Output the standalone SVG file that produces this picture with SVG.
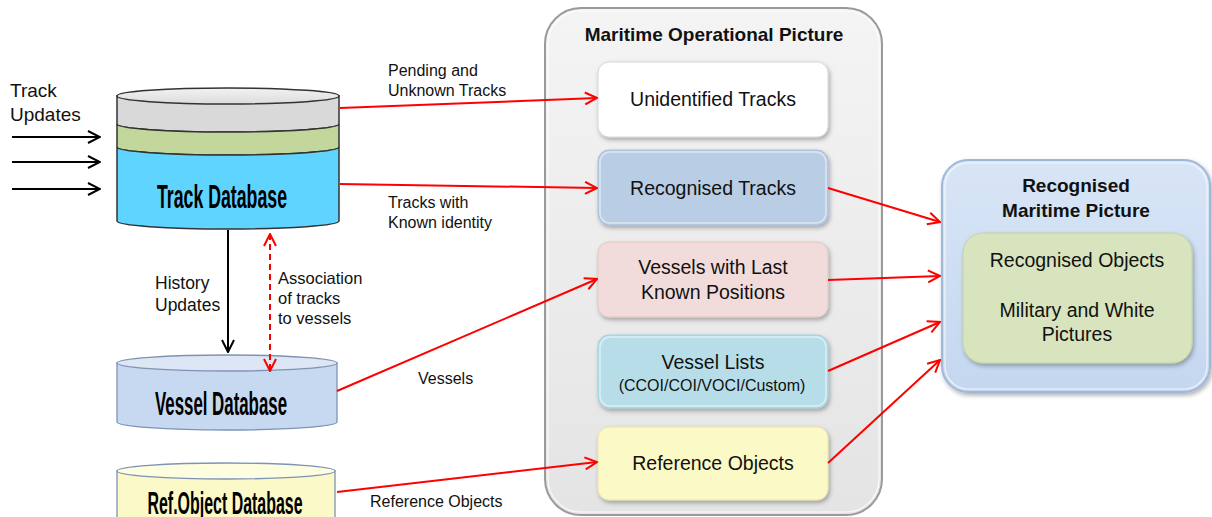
<svg xmlns="http://www.w3.org/2000/svg" width="1212" height="517" viewBox="0 0 1212 517">
<style>
text{font-family:"Liberation Sans",Arial,sans-serif;fill:#111}
.lbl{font-size:16px}
.box{font-size:19.5px;text-anchor:middle}
.ttl{font-size:19px;font-weight:bold;text-anchor:middle}
.db{font-size:33px;font-weight:bold;text-anchor:middle;fill:#000}
.red{stroke:#ff0000;stroke-width:2;fill:none}
.blk{stroke:#000;stroke-width:2;fill:none}
.inner{stroke:#ffffff;stroke-width:1.5}
</style>
<defs>
<marker id="ra" viewBox="0 0 14 14" refX="13" refY="7" markerWidth="14" markerHeight="14" markerUnits="userSpaceOnUse" orient="auto-start-reverse">
<polyline points="1,1 13,7 1,13" fill="none" stroke="#ff0000" stroke-width="2"/>
</marker>
<marker id="ba" viewBox="0 0 14 14" refX="13" refY="7" markerWidth="14" markerHeight="14" markerUnits="userSpaceOnUse" orient="auto">
<polyline points="1,1 13,7 1,13" fill="none" stroke="#000" stroke-width="2"/>
</marker>
<filter id="sh" x="-10%" y="-10%" width="125%" height="130%">
<feDropShadow dx="1.5" dy="2.5" stdDeviation="2" flood-color="#000" flood-opacity="0.3"/>
</filter>
<linearGradient id="gMop" x1="0" y1="0" x2="0" y2="1">
<stop offset="0" stop-color="#f4f4f4"/><stop offset="1" stop-color="#e4e4e4"/>
</linearGradient>
<linearGradient id="gRmp" x1="0" y1="0" x2="0" y2="1">
<stop offset="0" stop-color="#d8e5f6"/><stop offset="1" stop-color="#c4d7ef"/>
</linearGradient>
<linearGradient id="gTop" x1="0" y1="0" x2="0" y2="1">
<stop offset="0" stop-color="#f2f2f2"/><stop offset="1" stop-color="#dcdcdc"/>
</linearGradient>
</defs>

<g id="track-updates">
<text x="10" y="97" style="font-size:19px">Track</text>
<text x="10" y="121" style="font-size:19px">Updates</text>
</g>

<g id="track-database">
<path d="M117,96 L117,124 A111,8 0 0 0 339,124 L339,96 Z" fill="#d9d9d9" stroke="#333" stroke-width="1.5"/>
<path d="M117,124 L117,147 A111,8 0 0 0 339,147 L339,124 A111,8 0 0 1 117,124 Z" fill="#c3d69b" stroke="#333" stroke-width="1.5"/>
<path d="M117,147 L117,221 A111,8 0 0 0 339,221 L339,147 A111,8 0 0 1 117,147 Z" fill="#5fd4ff" stroke="#333" stroke-width="1.5"/>
<ellipse cx="228" cy="96" rx="111" ry="8" fill="url(#gTop)" stroke="#333" stroke-width="1.5"/>
<text class="db" x="222" y="208" textLength="130" lengthAdjust="spacingAndGlyphs">Track Database</text>
</g>

<g id="vessel-database">
<path d="M117,363 L117,422 A110,8 0 0 0 337,422 L337,363 Z" fill="#c6d9f1" stroke="#7f93b5" stroke-width="1.3"/>
<ellipse cx="227" cy="363" rx="110" ry="8" fill="#dce6f4" stroke="#7f93b5" stroke-width="1.3"/>
<text class="db" x="221" y="415" textLength="132" lengthAdjust="spacingAndGlyphs">Vessel Database</text>
</g>

<g id="ref-object-database">
<path d="M117,471 L117,530 L335,530 L335,471 Z" fill="#fbf9c8" stroke="#7f93b5" stroke-width="1.3"/>
<ellipse cx="226" cy="471" rx="109" ry="8" fill="#fdfde0" stroke="#7f93b5" stroke-width="1.3"/>
<text class="db" x="225" y="514" textLength="155" lengthAdjust="spacingAndGlyphs" style="font-size:31px">Ref.Object Database</text>
</g>

<g id="maritime-operational-picture">
<rect x="545" y="8" width="337" height="507" rx="36" fill="url(#gMop)" stroke="#9a9a9a" stroke-width="2"/>
<rect x="548" y="11" width="331" height="501" rx="33" fill="none" stroke="#ffffff" stroke-width="1.2" opacity="0.8"/>
<text class="ttl" x="714" y="41">Maritime Operational Picture</text>
</g>

<g id="unidentified-tracks">
<rect x="598" y="62" width="230" height="75" rx="11" fill="#ffffff" stroke="#d6d6d6" filter="url(#sh)"/>
<text class="box" x="713" y="106">Unidentified Tracks</text>
</g>

<g id="recognised-tracks">
<rect x="598" y="150" width="230" height="75" rx="11" fill="#b9cde5" stroke="#a7bedb" filter="url(#sh)"/>
<rect x="600" y="152" width="226" height="71" rx="10" fill="none" class="inner" opacity="0.5"/>
<text class="box" x="713" y="195">Recognised Tracks</text>
</g>

<g id="vessels-last-known">
<rect x="598" y="242" width="230" height="75" rx="11" fill="#f2dcdb" stroke="#e2c6c5" filter="url(#sh)"/>
<text class="box" x="713" y="274">Vessels with Last</text>
<text class="box" x="713" y="299">Known Positions</text>
</g>

<g id="vessel-lists">
<rect x="598" y="335" width="230" height="73" rx="11" fill="#b7dee8" stroke="#a0cfdc" filter="url(#sh)"/>
<rect x="600" y="337" width="226" height="69" rx="10" fill="none" class="inner" opacity="0.5"/>
<text class="box" x="713" y="369">Vessel Lists</text>
<text x="712" y="391" style="font-size:16px;text-anchor:middle">(CCOI/COI/VOCI/Custom)</text>
</g>

<g id="reference-objects">
<rect x="598" y="427" width="230" height="73" rx="11" fill="#fbf9c6" stroke="#e8e4a8" filter="url(#sh)"/>
<text class="box" x="713" y="470">Reference Objects</text>
</g>

<g id="recognised-maritime-picture">
<rect x="942" y="160" width="268" height="232" rx="26" fill="url(#gRmp)" stroke="#9fb8d8" stroke-width="2" filter="url(#sh)"/>
<rect x="945" y="163" width="262" height="226" rx="23" fill="none" stroke="#ffffff" stroke-width="1.2" opacity="0.7"/>
<text class="ttl" x="1076" y="192">Recognised</text>
<text class="ttl" x="1076" y="217">Maritime Picture</text>
</g>

<g id="recognised-objects">
<rect x="963" y="233" width="229" height="130" rx="20" fill="#d7e4bd" stroke="#c3d3a3" filter="url(#sh)"/>
<text class="box" x="1077" y="267">Recognised Objects</text>
<text class="box" x="1077" y="317">Military and White</text>
<text class="box" x="1077" y="341">Pictures</text>
</g>

<g id="connectors">
<line class="blk" x1="12" y1="137" x2="100" y2="137" marker-end="url(#ba)"/>
<line class="blk" x1="12" y1="162" x2="100" y2="162" marker-end="url(#ba)"/>
<line class="blk" x1="12" y1="189" x2="100" y2="189" marker-end="url(#ba)"/>
<line class="blk" x1="228" y1="230" x2="228" y2="352" marker-end="url(#ba)"/>
<line class="red" x1="270" y1="234" x2="270" y2="371" stroke-dasharray="6,4" marker-start="url(#ra)" marker-end="url(#ra)"/>
<line class="red" x1="340" y1="108" x2="597" y2="98" marker-end="url(#ra)"/>
<line class="red" x1="340" y1="184" x2="597" y2="188" marker-end="url(#ra)"/>
<line class="red" x1="337" y1="391" x2="597" y2="279" marker-end="url(#ra)"/>
<line class="red" x1="337" y1="492" x2="597" y2="462" marker-end="url(#ra)"/>
<line class="red" x1="828" y1="188" x2="940" y2="222" marker-end="url(#ra)"/>
<line class="red" x1="828" y1="280" x2="940" y2="276" marker-end="url(#ra)"/>
<line class="red" x1="828" y1="371" x2="940" y2="322" marker-end="url(#ra)"/>
<line class="red" x1="828" y1="463" x2="940" y2="360" marker-end="url(#ra)"/>
<text class="lbl" x="388" y="76">Pending and</text>
<text class="lbl" x="388" y="96">Unknown Tracks</text>
<text class="lbl" x="388" y="208">Tracks with</text>
<text class="lbl" x="388" y="228">Known identity</text>
<text class="lbl" x="418" y="384">Vessels</text>
<text class="lbl" x="370" y="507">Reference Objects</text>
<text x="155" y="289" style="font-size:17.5px">History</text>
<text x="155" y="311" style="font-size:17.5px">Updates</text>
<text class="lbl" x="278" y="284" style="font-size:16.5px">Association</text>
<text class="lbl" x="278" y="304" style="font-size:16.5px">of tracks</text>
<text class="lbl" x="278" y="324" style="font-size:16.5px">to vessels</text>
</g>
</svg>
